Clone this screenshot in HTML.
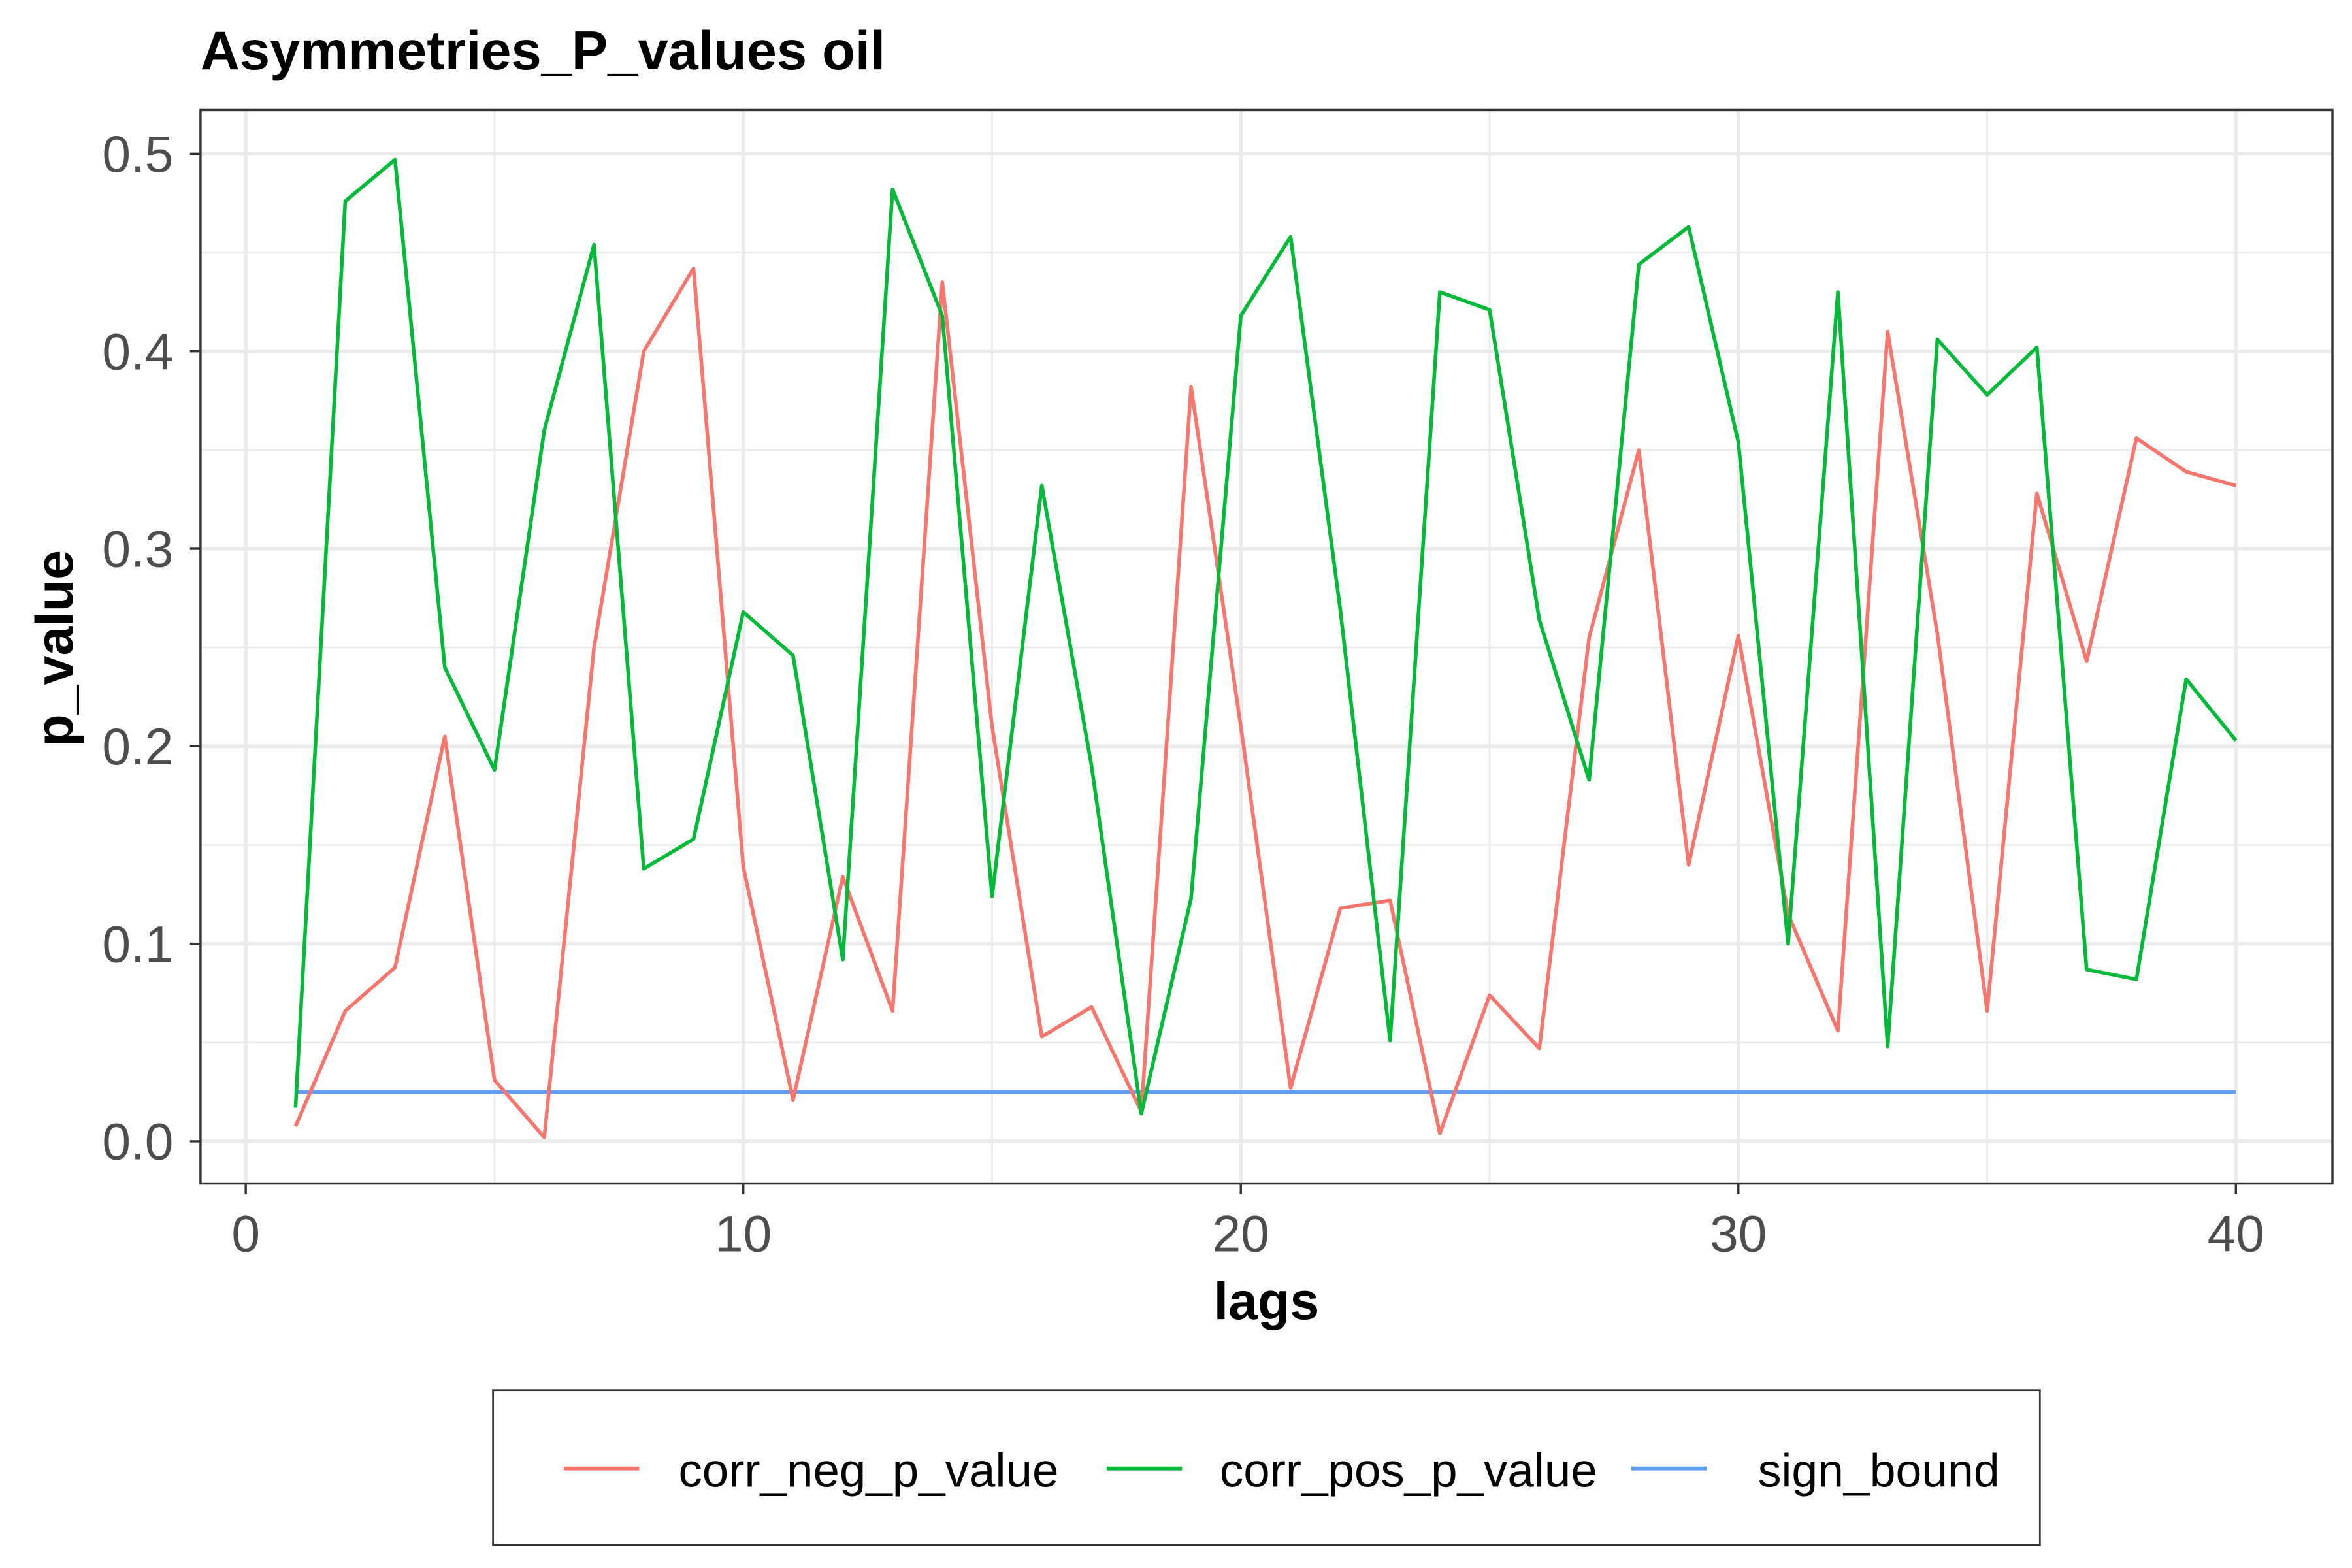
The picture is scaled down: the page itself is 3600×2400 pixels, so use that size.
<!DOCTYPE html>
<html><head><meta charset="utf-8"><style>
html,body{margin:0;padding:0;background:#fff}
svg{display:block;font-family:"Liberation Sans",Arial,sans-serif}
</style></head><body>
<svg id="chart" width="3600" height="2400" viewBox="0 0 1560 1040" xmlns="http://www.w3.org/2000/svg">
<rect width="1560" height="1040" fill="#fff"/>
<text x="133" y="46" font-size="36" font-weight="bold">Asymmetries_P_values oil</text>
<g id="grid"></g>
<g id="series"></g>
<rect x="133" y="73" width="1414" height="712" fill="none" stroke="#333" stroke-width="1.5"/>
<g id="axes"></g>
<text x="840" y="875" font-size="35" font-weight="bold" text-anchor="middle">lags</text>
<text transform="translate(48,430) rotate(-90)" font-size="35" font-weight="bold" text-anchor="middle">p_value</text>
<g>
<rect x="327" y="922" width="1026" height="103" fill="#fff" stroke="#333" stroke-width="1.2"/>
<g><line x1="374" x2="424" y1="974" y2="974" stroke="#F8766D" stroke-width="2.5"/><text x="450" y="986" font-size="31.5" fill="#000">corr_neg_p_value</text></g>
<g><line x1="734" x2="784" y1="974" y2="974" stroke="#00BA38" stroke-width="2.5"/><text x="809" y="986" font-size="31.5" fill="#000">corr_pos_p_value</text></g>
<g><line x1="1082" x2="1132" y1="974" y2="974" stroke="#619CFF" stroke-width="2.5"/><text x="1166" y="986" font-size="31" fill="#000">sign_bound</text></g>
</g>
</svg>
<script>
const lags = Array.from({length:40},(_,i)=>i+1);
const negValues = [0.0076,0.066,0.088,0.205,0.031,0.002,0.25,0.40,0.442,0.139,0.021,0.134,0.066,0.435,0.21,0.053,0.068,0.015,0.382,0.21,0.027,0.118,0.122,0.004,0.074,0.047,0.255,0.35,0.14,0.256,0.115,0.056,0.41,0.257,0.066,0.328,0.243,0.356,0.339,0.332];
const posValues = [0.017,0.476,0.497,0.24,0.188,0.36,0.454,0.138,0.153,0.268,0.246,0.092,0.482,0.418,0.124,0.332,0.19,0.014,0.123,0.418,0.458,0.269,0.051,0.43,0.421,0.264,0.183,0.444,0.463,0.354,0.1,0.43,0.048,0.406,0.378,0.402,0.087,0.082,0.234,0.203];
const boundValue = 0.025;
const xTicks = [0,10,20,30,40];
const xMinor = [5,15,25,35];
const yTicks = [0,0.1,0.2,0.3,0.4,0.5];
const yMinor = [0.05,0.15,0.25,0.35,0.45];
const yTickLabels = ["0.0","0.1","0.2","0.3","0.4","0.5"];

const NS="http://www.w3.org/2000/svg";
const X = v => 163 + v*33;
const Y = v => 757 - v*1310;
function mk(tag, attrs, parent){const e=document.createElementNS(NS,tag);for(const k in attrs)e.setAttribute(k,attrs[k]);parent.appendChild(e);return e;}
const grid=document.getElementById('grid'), axes=document.getElementById('axes'), series=document.getElementById('series');
xMinor.forEach(v=>{const l=mk('line',{x1:X(v),x2:X(v),y1:73,y2:785,stroke:'#ebebeb','stroke-width':1.2},grid);

});
yMinor.forEach(v=>{const l=mk('line',{x1:133,x2:1547,y1:Y(v),y2:Y(v),stroke:'#ebebeb','stroke-width':1.2},grid);

});
xTicks.forEach(v=>{const l=mk('line',{x1:X(v),x2:X(v),y1:73,y2:785,stroke:'#ebebeb','stroke-width':2.4},grid);


const t=mk('line',{x1:X(v),x2:X(v),y1:785,y2:792,stroke:'#333','stroke-width':1.5},axes);


const tx=mk('text',{x:X(v),y:830,'font-size':34,fill:'#4d4d4d','text-anchor':'middle'},axes);tx.textContent=v;

});
yTicks.forEach((v,i)=>{const l=mk('line',{x1:133,x2:1547,y1:Y(v),y2:Y(v),stroke:'#ebebeb','stroke-width':2.4},grid);


const t=mk('line',{x1:126,x2:133,y1:Y(v),y2:Y(v),stroke:'#333','stroke-width':1.5},axes);


const tx=mk('text',{x:115,y:Y(v)+12,'font-size':34,fill:'#4d4d4d','text-anchor':'end'},axes);tx.textContent=yTickLabels[i];

});
function line(vals,color,name){const p=mk('polyline',{points:lags.map((l,i)=>X(l)+','+Y(vals[i])).join(' '),fill:'none',stroke:color,'stroke-width':2.4,'stroke-linejoin':'round'},series);

}
line(lags.map(()=>boundValue),'#619CFF','sign-bound-line');
line(negValues,'#F8766D','corr-neg-line');
line(posValues,'#00BA38','corr-pos-line');
</script>
</body></html>
